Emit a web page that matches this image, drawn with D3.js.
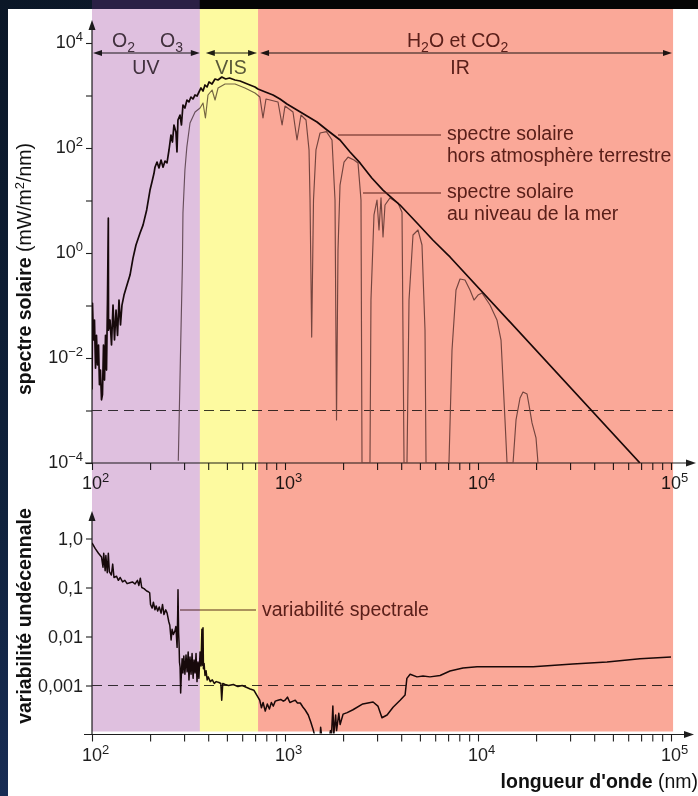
<!DOCTYPE html>
<html>
<head>
<meta charset="utf-8">
<script src="https://cdn.jsdelivr.net/npm/d3@7"></script>
<style>
  html, body { margin: 0; padding: 0; background: #0b1829; }
  svg { display: block; }
  text { font-family: "Liberation Sans", Arial, Helvetica, sans-serif; }
</style>
</head>
<body>
<svg id="chart" width="698" height="796"></svg>
<script>
// ---------- data ----------
// spectral domains (nm): UV | VIS | IR
const bandEdges = [100, 362, 725, 102500];
const bandNames = ["UV", "VIS", "IR"];

// solar spectral irradiance above the atmosphere (nm, mW/m²/nm)
const toaSpectrum = [
  [100, 2.5e-3], [100.6, 0.11], [101.8, 0.022], [103.0, 0.053], [104.3, 0.0064], [105.5, 0.027],
  [106.8, 0.0074], [108.1, 0.0177], [109.3, 0.0031], [110.6, 0.0059], [112.0, 0.0016], [113.3, 0.002],
  [114.7, 0.0177], [116.1, 0.0038], [117.5, 0.027], [118.9, 0.0059], [120.3, 0.127], [121.5, 4.6],
  [121.8, 0.034], [124, 0.053], [126.2, 0.0177], [128.5, 0.102], [130.8, 0.022], [133.2, 0.082],
  [135.6, 0.027], [138, 0.127], [140.5, 0.0425], [143, 0.102], [146.5, 0.158], [151.8, 0.246],
  [157.4, 0.38], [163.1, 0.8], [169, 1.42], [177.4, 2.4], [183.8, 3.4], [192, 6.6], [199.8, 15.8],
  [204.5, 22.5], [209.5, 33], [212, 43], [217.2, 54], [222.4, 41.6], [227.9, 59], [233.4, 43],
  [239, 56.5], [244.7, 52], [250.6, 91.6], [256.6, 177], [261.2, 130], [265.8, 274], [272.2, 202],
  [275.6, 84], [278.8, 341], [285.8, 425], [290.7, 274], [296, 659], [303, 578], [310.5, 821],
  [318, 752], [325.6, 936], [333.5, 857], [341.8, 1022], [350, 978], [358.4, 1166], [367, 1390],
  [376, 1218], [385, 1585], [394.6, 1452], [404, 1808], [418.7, 1656], [433.8, 2062], [449.5, 1973],
  [470.6, 2250], [492.8, 2062], [516, 2154], [550.5, 1973], [585, 1890], [620, 1730], [658, 1585],
  [699, 1452], [724, 1330], [791, 1166], [867, 1022], [942, 857], [1024, 689], [1154, 530],
  [1300, 407], [1465, 313], [1651, 220], [1928, 142], [2172, 84], [2447, 52], [2817, 26.8],
  [3219, 15.8], [3944, 8.2], [4831, 3.73], [5834, 1.77], [7161, 0.84], [69070, 1e-4]
];

// solar spectral irradiance at sea level (nm, mW/m²/nm)
const seaLevelSpectrum = [
  [280, 1.1e-4], [287, 9.2e-3], [294, 0.59], [296, 5.8], [303, 38], [310, 104], [322, 300],
  [342, 485], [363, 578], [376, 720], [387, 373], [399, 1022], [419, 1273], [434, 821], [450, 1390],
  [489, 1656], [551, 1656], [620, 1390], [699, 1116], [741, 936], [769, 373], [797, 857],
  [920, 752], [966, 274], [1000, 631], [1100, 485], [1154, 142], [1210, 425], [1285, 341],
  [1332, 92], [1348, 10.2], [1375, 0.025], [1405, 10.2], [1447, 92], [1519, 193], [1640, 205],
  [1752, 142], [1816, 10.2], [1849, 6.6e-4], [1882, 1.14], [1928, 19.7], [2022, 54], [2121, 67],
  [2278, 59], [2389, 52], [2476, 10.2], [2506, 1e-4], [2756, 1e-4], [2789, 0.127], [2891, 5.3],
  [2997, 10.2], [3069, 2.74], [3144, 11.2], [3220, 2.02], [3297, 8.2], [3499, 11.2], [3851, 9.0],
  [4039, 6.0], [4137, 1e-4], [4286, 1e-4], [4391, 0.127], [4605, 2.2], [4887, 2.74], [5126, 1.42],
  [5314, 0.034], [5379, 1e-4], [7073, 1e-4], [7334, 0.0142], [7691, 0.197], [8067, 0.32],
  [8562, 0.306], [9090, 0.197], [9535, 0.127], [10000, 0.158], [10490, 0.173], [11540, 0.102],
  [12540, 0.053], [13160, 0.022], [13800, 6.6e-4], [14140, 1e-4], [15190, 1e-4], [15740, 6.6e-4],
  [16510, 1.73e-3], [17110, 2.25e-3], [17950, 2.06e-3], [18380, 1.27e-3], [19050, 5.8e-4],
  [19980, 3.0e-4], [20460, 1e-4]
];

// relative variability over the 11-year solar cycle (nm, fraction)
const variability = [
  [100, 0.81], [104, 0.62], [108, 0.5], [112, 0.42], [114, 0.26], [115, 0.5], [117, 0.22],
  [118, 0.45], [120, 0.2], [121.5, 0.5], [123, 0.21], [126, 0.18], [128, 0.3], [130, 0.16],
  [134, 0.17], [137, 0.14], [140, 0.16], [144, 0.13], [148, 0.14], [152, 0.12], [157, 0.125],
  [162, 0.13], [167, 0.118], [172, 0.14], [175, 0.11], [178, 0.155], [181, 0.1], [186, 0.095],
  [192, 0.085], [196, 0.082], [199, 0.078], [201, 0.045], [205, 0.038], [208, 0.05], [212, 0.035],
  [215, 0.042], [219, 0.033], [223, 0.04], [228, 0.03], [232, 0.045], [236, 0.028], [241, 0.035],
  [245, 0.03], [250, 0.02], [253, 0.017], [257, 0.0085], [260, 0.014], [264, 0.011], [269, 0.013],
  [272, 0.016], [276, 0.006], [278, 0.03], [279, 0.09], [281, 0.012], [282.5, 0.0074], [284, 0.003],
  [286, 0.0024], [288, 0.0007], [290, 0.0015], [293, 0.0035], [296, 0.0018], [299, 0.004],
  [303, 0.0017], [307, 0.0042], [311, 0.0019], [315, 0.0048], [318, 0.0013], [322, 0.0038],
  [326, 0.0017], [330, 0.0045], [334, 0.0014], [338, 0.0033], [342, 0.0018], [346, 0.0045],
  [350, 0.0012], [354, 0.003], [358, 0.0014], [363, 0.0048], [367, 0.0025], [371, 0.014],
  [374, 0.0026], [376, 0.015], [378, 0.0022], [381, 0.0028], [385, 0.0016], [390, 0.002],
  [395, 0.0013], [400, 0.0015], [410, 0.0012], [420, 0.0013], [430, 0.0011], [440, 0.0012],
  [455, 0.00115], [465, 0.0011], [470, 0.0005], [476, 0.0011], [490, 0.00105], [510, 0.001],
  [540, 0.00105], [570, 0.00095], [600, 0.001], [630, 0.00092], [660, 0.00085], [690, 0.0008],
  [724, 0.00058], [740, 0.0005], [755, 0.00035], [770, 0.00045], [790, 0.0003], [810, 0.00042],
  [830, 0.00033], [850, 0.00045], [870, 0.00038], [890, 0.00048], [920, 0.0005], [950, 0.00052],
  [980, 0.00048], [1000, 0.0005], [1030, 0.00058], [1060, 0.00045], [1100, 0.00048], [1130, 0.0005],
  [1160, 0.00044], [1200, 0.00044], [1240, 0.00036], [1270, 0.00032], [1320, 0.00025],
  [1360, 0.00018], [1400, 0.000125], [1430, 0.00009], [1520, 0.00009], [1530, 0.00014],
  [1550, 0.00009], [1700, 0.00009], [1720, 0.00012], [1740, 0.00009], [1770, 0.00038],
  [1790, 0.0001], [1830, 0.00025], [1850, 0.00012], [1900, 0.00027], [1930, 0.00016],
  [2000, 0.00026], [2100, 0.00028], [2250, 0.00032], [2530, 0.00042], [2860, 0.00046],
  [3030, 0.00038], [3180, 0.00022], [3380, 0.00025], [3630, 0.00036], [3950, 0.0005],
  [4190, 0.00064], [4280, 0.0014], [4450, 0.0017], [4830, 0.0015], [5190, 0.00156], [5640, 0.0015],
  [6360, 0.0016], [7160, 0.00198], [8360, 0.00228], [9890, 0.0024], [14100, 0.0024],
  [19300, 0.0024], [31000, 0.00275], [46600, 0.003], [69000, 0.0035], [100000, 0.0038]
];

// axis ticks
const xDecades = [2, 3, 4, 5];
const topYDecades = [-4, -3, -2, -1, 0, 1, 2, 3, 4];
const topYLabelled = [-4, -2, 0, 2, 4];
const bottomYTicks = [1, 0.1, 0.01, 0.001];
const bottomYLabels = ["1,0", "0,1", "0,01", "0,001"];

// ---------- layout ----------
const svg = d3.select("#chart");
const W = 698, H = 796;
const x = d3.scaleLog().domain([100, 1e5]).range([92, 671]);
const yTop = d3.scaleLog().domain([1e-4, 1e4]).range([463, 43]);
const yBot = d3.scaleLog().domain([1e-4, 1]).range([734.5, 538.5]);

const bandColors = ["#dfc0df", "#fdfaa0", "#faa898"];
const inkAxis = "#1e1e1e";
const inkCurve = "#1a0c0c";
const inkSea = "#766868";
const inkNote = "#5c2e2a";
const inkBand = "#4a4046";
const labelSize = 18, supSize = 13, noteSize = 19.5;

// ---------- backdrop ----------
const defs = svg.append("defs");
const bg = defs.append("linearGradient").attr("id", "space").attr("x1", 0).attr("y1", 0).attr("x2", 0.3).attr("y2", 1);
bg.append("stop").attr("offset", "0%").attr("stop-color", "#0b1727");
bg.append("stop").attr("offset", "60%").attr("stop-color", "#10223d");
bg.append("stop").attr("offset", "100%").attr("stop-color", "#1a2f5a");
svg.append("rect").attr("width", W).attr("height", H).attr("fill", "url(#space)");
svg.append("rect").attr("x", x(bandEdges[0])).attr("y", 0).attr("width", x(bandEdges[1]) - x(bandEdges[0])).attr("height", 9).attr("fill", "#2a1f45");
svg.append("rect").attr("x", x(bandEdges[1])).attr("y", 0).attr("width", W - x(bandEdges[1])).attr("height", 9).attr("fill", "#050505");
svg.append("rect").attr("x", 8).attr("y", 9).attr("width", W - 8).attr("height", H - 9).attr("fill", "#ffffff");

defs.append("clipPath").attr("id", "clipTop").append("rect")
  .attr("x", x(100)).attr("y", 18).attr("width", x(1e5) - x(100) + 2).attr("height", yTop(1e-4) - 18);
defs.append("clipPath").attr("id", "clipBot").append("rect")
  .attr("x", x(100)).attr("y", 505).attr("width", x(1e5) - x(100) + 2).attr("height", yBot(1e-4) - 505 - 1);

const ink = svg.append("g");

// ---------- helpers ----------
function arrowHead(g, tx, ty, dir, len = 10, half = 3.5) {
  // dir: "up", "right", "left"
  let pts;
  if (dir === "up") pts = [[tx, ty], [tx - half, ty + len], [tx + half, ty + len]];
  else if (dir === "right") pts = [[tx, ty], [tx - len, ty - half], [tx - len, ty + half]];
  else pts = [[tx, ty], [tx + len, ty - half], [tx + len, ty + half]];
  g.append("path").attr("d", d3.line()(pts) + "Z").attr("fill", inkAxis);
}
function powText(g, px, py, exp, anchor) {
  const t = g.append("text").attr("x", px).attr("y", py).attr("text-anchor", anchor)
    .attr("font-size", labelSize).attr("fill", inkAxis);
  t.append("tspan").text("10");
  t.append("tspan").attr("dy", -7).attr("font-size", supSize).text(exp);
  return t;
}
// text runs with subscripts: parts like {t:"O"}, {sub:"2"}
function subText(g, px, py, parts, anchor, fill) {
  const t = g.append("text").attr("x", px).attr("y", py).attr("text-anchor", anchor)
    .attr("font-size", noteSize).attr("fill", fill);
  let shifted = false;
  parts.forEach(p => {
    if (p.sub) {
      t.append("tspan").attr("dy", 5).attr("font-size", 14).text(p.sub);
      shifted = true;
    } else {
      const s = t.append("tspan").text(p.t);
      if (shifted) { s.attr("dy", -5); shifted = false; }
    }
  });
  return t;
}

// ---------- top panel: spectra ----------
const topAxisY = yTop(1e-4);
// axes lines
ink.append("line").attr("x1", x(100)).attr("x2", x(100)).attr("y1", topAxisY).attr("y2", 28)
  .attr("stroke", inkAxis).attr("stroke-width", 1.2);
arrowHead(ink, x(100), 20, "up");
ink.append("line").attr("x1", 85).attr("x2", 688).attr("y1", topAxisY).attr("y2", topAxisY)
  .attr("stroke", inkAxis).attr("stroke-width", 1.2);
arrowHead(ink, 696, topAxisY, "right");

// y ticks
const gyTop = ink.append("g").attr("transform", `translate(${x(100)},0)`)
  .call(d3.axisLeft(yTop).tickValues(topYDecades.map(e => Math.pow(10, e))).tickSize(6).tickFormat(""));
gyTop.select(".domain").remove();
gyTop.selectAll("line").attr("stroke", inkAxis).attr("stroke-width", 1.1);
topYLabelled.forEach(e => {
  powText(ink, 83, yTop(Math.pow(10, e)) + 5, e < 0 ? "\u2212" + (-e) : String(e), "end");
});

// x ticks (shared positions)
const xMinor = [];
[2, 3, 4].forEach(d => { for (let m = 1; m < 10; m++) xMinor.push(m * Math.pow(10, d)); });
xMinor.push(1e5);
function xTicks(yPos) {
  const g = ink.append("g").attr("transform", `translate(0,${yPos})`)
    .call(d3.axisBottom(x).tickValues(xMinor).tickSize(7).tickFormat(""));
  g.select(".domain").remove();
  g.selectAll("line").attr("stroke", inkAxis).attr("stroke-width", 1.1);
}
xTicks(topAxisY);
xDecades.forEach(d => {
  powText(ink, x(Math.pow(10, d)) - 10, 489, String(d), "start");
});

// dashed reference level
ink.append("line").attr("x1", x(100)).attr("x2", 673).attr("y1", yTop(1e-3)).attr("y2", yTop(1e-3))
  .attr("stroke", "#3a3a3a").attr("stroke-width", 1).attr("stroke-dasharray", "10,6");

// curves
const lineTop = d3.line().x(d => x(d[0])).y(d => yTop(d[1]));
const curvesTop = ink.append("g").attr("clip-path", "url(#clipTop)");
curvesTop.append("path").datum(seaLevelSpectrum).attr("d", lineTop)
  .attr("fill", "none").attr("stroke", inkSea).attr("stroke-width", 1.15).attr("stroke-linejoin", "round");
curvesTop.append("path").datum(toaSpectrum).attr("d", lineTop)
  .attr("fill", "none").attr("stroke", inkCurve).attr("stroke-width", 1.7).attr("stroke-linejoin", "round");

// domain arrows and labels
const yArrow = 53;
function spanArrow(x1, x2) {
  ink.append("line").attr("x1", x1 + 4).attr("x2", x2 - 4).attr("y1", yArrow).attr("y2", yArrow)
    .attr("stroke", inkAxis).attr("stroke-width", 1.1);
  arrowHead(ink, x1, yArrow, "left", 9, 3);
  arrowHead(ink, x2, yArrow, "right", 9, 3);
}
spanArrow(x(bandEdges[0]) + 1, x(bandEdges[1]));
spanArrow(x(bandEdges[1]) + 6, x(bandEdges[2]) - 1);
spanArrow(x(bandEdges[2]) + 2, 672);

subText(ink, 112, 47, [{ t: "O" }, { sub: "2" }], "start", inkBand);
subText(ink, 160, 47, [{ t: "O" }, { sub: "3" }], "start", inkBand);
ink.append("text").attr("x", (x(bandEdges[0]) + x(bandEdges[1])) / 2).attr("y", 74).attr("text-anchor", "middle")
  .attr("font-size", noteSize).attr("fill", inkBand).text(bandNames[0]);
ink.append("text").attr("x", (x(bandEdges[1]) + x(bandEdges[2])) / 2 + 2).attr("y", 74).attr("text-anchor", "middle")
  .attr("font-size", noteSize).attr("fill", "#5a5a5a").text(bandNames[1]);
ink.append("text").attr("x", 460).attr("y", 74).attr("text-anchor", "middle")
  .attr("font-size", noteSize).attr("fill", inkNote).text(bandNames[2]);
subText(ink, 407, 47, [{ t: "H" }, { sub: "2" }, { t: "O et CO" }, { sub: "2" }], "start", inkNote);

// curve annotations
function leader(x1, x2, yy) {
  ink.append("line").attr("x1", x1).attr("x2", x2).attr("y1", yy).attr("y2", yy)
    .attr("stroke", inkNote).attr("stroke-width", 1.1);
}
leader(338, 441, 135);
leader(363, 441, 193);
[["spectre solaire", 140], ["hors atmosphère terrestre", 162], ["spectre solaire", 198], ["au niveau de la mer", 220]]
  .forEach(([s, yy]) => ink.append("text").attr("x", 447).attr("y", yy).attr("font-size", noteSize)
    .attr("fill", inkNote).text(s));

// y title
const tTop = ink.append("text").attr("transform", "translate(31,269) rotate(-90)").attr("text-anchor", "middle")
  .attr("font-size", noteSize).attr("fill", "#111");
tTop.append("tspan").attr("font-weight", "bold").text("spectre solaire ");
tTop.append("tspan").text("(mW/m");
tTop.append("tspan").attr("dy", -7).attr("font-size", 13).text("2");
tTop.append("tspan").attr("dy", 7).text("/nm)");

// ---------- bottom panel: variability ----------
const botAxisY = yBot(1e-4);
ink.append("line").attr("x1", x(100)).attr("x2", x(100)).attr("y1", botAxisY).attr("y2", 520)
  .attr("stroke", inkAxis).attr("stroke-width", 1.2);
arrowHead(ink, x(100), 511, "up");
ink.append("line").attr("x1", 84).attr("x2", 686).attr("y1", botAxisY).attr("y2", botAxisY)
  .attr("stroke", inkAxis).attr("stroke-width", 1.2);
arrowHead(ink, 694, botAxisY, "right");

const gyBot = ink.append("g").attr("transform", `translate(${x(100)},0)`)
  .call(d3.axisLeft(yBot).tickValues(bottomYTicks).tickSize(6).tickFormat(""));
gyBot.select(".domain").remove();
gyBot.selectAll("line").attr("stroke", inkAxis).attr("stroke-width", 1.1);
bottomYTicks.forEach((v, i) => {
  ink.append("text").attr("x", 83).attr("y", yBot(v) + 6).attr("text-anchor", "end")
    .attr("font-size", labelSize).attr("fill", inkAxis).text(bottomYLabels[i]);
});
xTicks(botAxisY);
xDecades.forEach(d => {
  powText(ink, x(Math.pow(10, d)) - 10, 761, String(d), "start");
});

ink.append("line").attr("x1", x(100)).attr("x2", 673).attr("y1", yBot(1e-3)).attr("y2", yBot(1e-3))
  .attr("stroke", "#3a3a3a").attr("stroke-width", 1).attr("stroke-dasharray", "10,6");

const lineBot = d3.line().x(d => x(d[0])).y(d => yBot(d[1]));
ink.append("g").attr("clip-path", "url(#clipBot)").append("path").datum(variability).attr("d", lineBot)
  .attr("fill", "none").attr("stroke", inkCurve).attr("stroke-width", 1.5).attr("stroke-linejoin", "round");

leader(180, 256, 610);
ink.append("text").attr("x", 262).attr("y", 616).attr("font-size", noteSize).attr("fill", inkNote)
  .text("variabilité spectrale");

ink.append("text").attr("transform", "translate(31,616) rotate(-90)").attr("text-anchor", "middle")
  .attr("font-size", noteSize).attr("font-weight", "bold").attr("fill", "#111").text("variabilité undécennale");

const tX = ink.append("text").attr("x", 698).attr("y", 788).attr("text-anchor", "end")
  .attr("font-size", noteSize).attr("fill", "#111");
tX.append("tspan").attr("font-weight", "bold").text("longueur d'onde ");
tX.append("tspan").text("(nm)");

// ---------- spectral domain tints (printed over the ink) ----------
svg.append("g").selectAll("rect").data(bandColors).join("rect")
  .attr("x", (c, i) => x(bandEdges[i]))
  .attr("width", (c, i) => x(bandEdges[i + 1]) - x(bandEdges[i]))
  .attr("y", 9).attr("height", 731.5 - 9)
  .attr("fill", c => c)
  .style("mix-blend-mode", "multiply");
</script>
</body>
</html>
